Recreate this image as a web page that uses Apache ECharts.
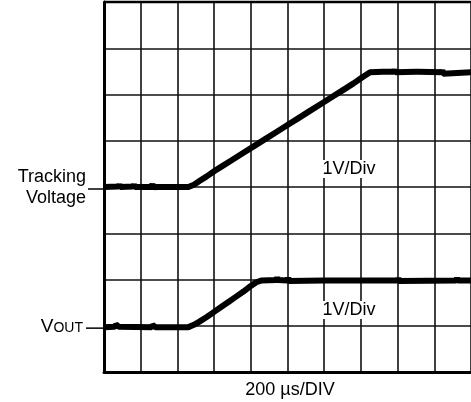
<!DOCTYPE html>
<html>
<head>
<meta charset="utf-8">
<style>
  html, body { margin: 0; padding: 0; background: #fff; }
  #chart { width: 471px; height: 402px; }
</style>
<script src="https://cdn.jsdelivr.net/npm/echarts@6/dist/echarts.min.js"></script>
</head>
<body>
<div id="chart"></div>
<script>
// Scope screen: 10 horizontal divisions (200 us each), 8 vertical divisions (1 V each)
const xDivisions = [0, 10];
const yDivisions = [0, 8];

// Trace levels (in divisions from the bottom of the screen)
const trackingLevel = 4.0;
const voutLevel = 0.97;

// Tracking voltage trace: [time in divisions, level in divisions]
const trackingTrace = [
  [0.00, 4.00], [0.40, 4.01], [0.42, 4.06], [0.44, 4.00], [0.80, 4.01],
  [0.82, 4.06], [0.84, 4.00], [1.30, 4.00], [1.32, 4.07], [1.34, 3.95],
  [1.36, 4.00], [2.00, 4.00], [2.05, 4.04], [2.10, 4.00], [2.30, 4.00],
  [2.45, 4.05], [2.60, 4.13], [2.80, 4.23], [3.00, 4.34], [3.20, 4.44],
  [3.50, 4.59], [3.80, 4.74], [4.10, 4.89], [4.40, 5.04], [4.70, 5.19],
  [5.00, 5.34], [5.30, 5.49], [5.60, 5.64], [5.90, 5.79], [6.20, 5.94],
  [6.50, 6.09], [6.80, 6.24], [7.05, 6.38], [7.25, 6.48], [7.60, 6.49],
  [7.90, 6.49], [7.92, 6.54], [7.94, 6.48], [8.50, 6.49], [8.52, 6.53],
  [8.54, 6.46], [8.56, 6.49], [9.20, 6.48], [9.22, 6.53], [9.24, 6.45],
  [9.26, 6.48], [10.00, 6.48]
];

// Output voltage trace
const voutTrace = [
  [0.00, 0.97], [0.30, 0.98], [0.32, 1.03], [0.40, 0.98], [1.30, 0.97],
  [1.32, 1.02], [1.40, 0.97], [2.00, 0.97], [2.30, 0.97], [2.45, 1.02],
  [2.60, 1.09], [2.80, 1.19], [3.00, 1.30], [3.20, 1.41], [3.40, 1.52],
  [3.60, 1.63], [3.80, 1.74], [4.00, 1.86], [4.15, 1.94], [4.30, 1.98],
  [4.70, 1.99], [4.72, 2.05], [4.74, 1.99], [5.00, 1.98], [5.02, 2.04],
  [5.04, 1.97], [6.00, 1.98], [7.00, 1.98], [8.00, 1.98], [8.02, 2.03],
  [8.04, 1.97], [9.60, 1.98], [9.62, 2.04], [9.64, 1.98], [10.00, 1.98]
];

const FONT = '"Liberation Sans", Arial, sans-serif';
const chart = echarts.init(document.getElementById('chart'), null, { renderer: 'canvas' });

const option = {
  animation: false,
  backgroundColor: '#fff',
  // the screen runs slightly past the right edge of the page
  grid: { left: 104, top: 2, width: 371, height: 370, containLabel: false },
  xAxis: {
    type: 'value', min: xDivisions[0], max: xDivisions[1], interval: 1,
    axisLine: { show: true, lineStyle: { color: '#000', width: 3 } },
    axisTick: { show: false }, axisLabel: { show: false },
    splitLine: { show: true, lineStyle: { color: '#111', width: 1.6 } }
  },
  yAxis: {
    type: 'value', min: yDivisions[0], max: yDivisions[1], interval: 1,
    axisLine: { show: true, onZero: false, lineStyle: { color: '#000', width: 3 } },
    axisTick: { show: false }, axisLabel: { show: false },
    splitLine: { show: true, lineStyle: { color: '#111', width: 1.6 } }
  },
  series: [
    {
      name: 'Tracking Voltage', type: 'line', data: trackingTrace,
      symbol: 'none', lineStyle: { color: '#000', width: 6 }, z: 5
    },
    {
      name: 'VOUT', type: 'line', data: voutTrace,
      symbol: 'none', lineStyle: { color: '#000', width: 6 }, z: 5
    }
  ]
};
chart.setOption(option);

// Channel labels, ground markers and scale annotations
const trackY = chart.convertToPixel({ gridIndex: 0 }, [0, trackingLevel])[1];
const voutY = chart.convertToPixel({ gridIndex: 0 }, [0, voutLevel])[1];
const left = chart.convertToPixel({ gridIndex: 0 }, [0, 0])[0];

chart.setOption({
  graphic: [
    { type: 'line', shape: { x1: 88, y1: trackY + 2, x2: left, y2: trackY + 2 },
      style: { stroke: '#000', lineWidth: 1.5 } },
    { type: 'line', shape: { x1: 86, y1: voutY + 1, x2: left, y2: voutY + 1 },
      style: { stroke: '#000', lineWidth: 1.5 } },
    { type: 'line', shape: { x1: left, y1: 2, x2: 471, y2: 2 },
      style: { stroke: '#000', lineWidth: 2.5 } },
    { type: 'text', x: 86, y: 177, style: {
        text: 'Tracking', font: '18px ' + FONT, fill: '#000',
        textAlign: 'right', textVerticalAlign: 'middle' } },
    { type: 'text', x: 86, y: 198, style: {
        text: 'Voltage', font: '18px ' + FONT, fill: '#000',
        textAlign: 'right', textVerticalAlign: 'middle' } },
    { type: 'text', x: 83, y: 336, style: {
        text: '{v|V}{s|OUT}', fill: '#000',
        align: 'right', verticalAlign: 'bottom',
        rich: {
          v: { fontSize: 19, fontFamily: FONT, lineHeight: 22, verticalAlign: 'bottom' },
          s: { fontSize: 14, fontFamily: FONT, lineHeight: 22, verticalAlign: 'bottom', padding: [0, 0, 1, 0] }
        } } },
    { type: 'text', x: 349, y: 169, style: {
        text: '1V/Div', font: '18px ' + FONT, fill: '#000',
        textAlign: 'center', textVerticalAlign: 'middle',
        backgroundColor: '#fff', padding: [0, 1] } },
    { type: 'text', x: 349, y: 310, style: {
        text: '1V/Div', font: '18px ' + FONT, fill: '#000',
        textAlign: 'center', textVerticalAlign: 'middle',
        backgroundColor: '#fff', padding: [0, 1] } },
    { type: 'text', x: 290, y: 390, style: {
        text: '200 \u00b5s/DIV', font: '18px ' + FONT, fill: '#000',
        textAlign: 'center', textVerticalAlign: 'middle' } }
  ]
});
</script>
</body>
</html>
